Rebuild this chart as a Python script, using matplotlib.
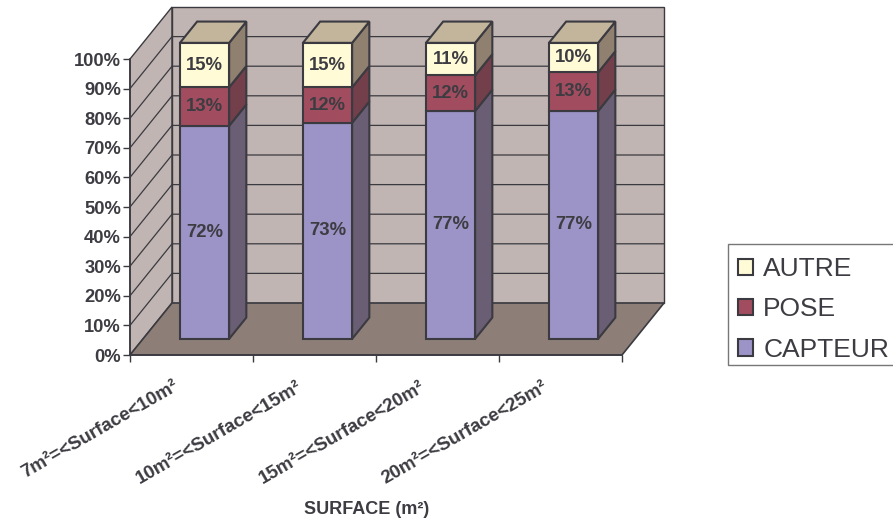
import matplotlib
matplotlib.use('Agg')
import matplotlib.pyplot as plt
from matplotlib.patches import Patch, Rectangle

plt.rcParams['font.family'] = ['Liberation Sans', 'DejaVu Sans']

categories = ['7m²=<Surface<10m²', '10m²=<Surface<15m²', '15m²=<Surface<20m²', '20m²=<Surface<25m²']
capteur = [72, 73, 77, 77]
pose = [13, 12, 12, 13]
autre = [15, 15, 11, 10]
series_names = ['CAPTEUR', 'POSE', 'AUTRE']
y_ticks = list(range(0, 101, 10))

TXT = '#3c3c42'
EDGE = '#3a3a40'
WALL = '#c0b5b2'
FLOOR = '#8d7e78'
TOP = '#c3b59b'
FRONT = ['#9c93c6', '#a24d5f', '#fffbd6']
SIDE = ['#6a5e74', '#733f4b', '#8f8070']

W, H = 893, 520
fig = plt.figure(figsize=(W / 100, H / 100), dpi=100)
# front plane of the fake 3d box, in pixels
ax = fig.add_axes([130 / W, 1 - 355 / H, 492 / W, 296 / H])
ax.set_xlim(0, 4)
ax.set_ylim(0, 100)

# depth of the box in data units
DX = 42 / 123
DY = 52 / 2.96


def poly(xs, ys, color, z, lw=1.0, ec=EDGE):
    ax.fill(xs, ys, facecolor=color, edgecolor=ec, linewidth=lw, zorder=z, clip_on=False)


# walls and floor
poly([0, DX, DX, 0], [0, DY, 100 + DY, 100], WALL, 1)
poly([DX, 4 + DX, 4 + DX, DX], [DY, DY, 100 + DY, 100 + DY], WALL, 1)
poly([0, 4, 4 + DX, DX], [0, 0, DY, DY], FLOOR, 2, lw=1.2)

for t in y_ticks[1:-1]:
    ax.plot([0, DX, 4 + DX], [t, t + DY, t + DY], color=EDGE, lw=0.9, zorder=2, clip_on=False)

# bars: stand 0.31 of the way back, 0.41 deep
start = 0.31
depth = 0.41
bar_w = 0.4
for i in range(len(categories)):
    x0 = i + 0.5 + start * DX
    y0 = start * DY
    x1 = x0 - bar_w / 2
    x2 = x0 + bar_w / 2
    ddx = depth * DX
    ddy = depth * DY
    bottom = 0
    for j, vals in enumerate([capteur, pose, autre]):
        v = vals[i]
        ax.bar(x0, v, bar_w, bottom=bottom + y0, color=FRONT[j], edgecolor=EDGE, linewidth=1.5, zorder=5, clip_on=False)
        poly([x2, x2 + ddx, x2 + ddx, x2],
             [bottom + y0, bottom + y0 + ddy, bottom + v + y0 + ddy, bottom + v + y0],
             SIDE[j], 4, lw=1.5)
        ax.text(x0, bottom + y0 + v / 2, '%d%%' % v, ha='center', va='center', fontsize=13.3,
                fontweight='bold', color=TXT, zorder=6)
        bottom += v
    poly([x1, x2, x2 + ddx, x1 + ddx], [bottom + y0, bottom + y0, bottom + y0 + ddy, bottom + y0 + ddy], TOP, 4, lw=1.5)

for s in ['top', 'right']:
    ax.spines[s].set_visible(False)
for s in ['left', 'bottom']:
    ax.spines[s].set_color(EDGE)
    ax.spines[s].set_linewidth(1.2)
    ax.spines[s].set_zorder(3)
ax.patch.set_visible(False)

ax.set_yticks(y_ticks)
ax.set_yticklabels(['%d%%' % t for t in y_ticks], fontsize=13.2, fontweight='bold', color=TXT)
ax.set_xticks(range(5))
ax.set_xticklabels([])
ax.tick_params(axis='both', length=5, width=1.0, color=EDGE, pad=1.5)

for i, c in enumerate(categories):
    ax.annotate(c, xy=(i + 0.5, 0), xytext=(-18, -23), textcoords='offset pixels', rotation=30,
                rotation_mode='anchor', ha='right', va='top', fontsize=13.5, fontweight='bold',
                color=TXT, annotation_clip=False)

fig.text(366.5 / W, 1 - 509.5 / H, 'SURFACE (m²)', ha='center', va='center', fontsize=13,
         fontweight='bold', color=TXT)

# legend box drawn apart so the rows can sit where they do in the original
fig.add_artist(Rectangle((728 / W, 1 - 365 / H), 175 / W, 121 / H, transform=fig.transFigure,
                         facecolor='white', edgecolor='#777777', linewidth=1.0))
handles = [Patch(facecolor=FRONT[j], edgecolor=EDGE, linewidth=1.5, label=series_names[j]) for j in [2, 1, 0]]
leg = fig.legend(handles=handles, loc='upper left', bbox_to_anchor=(728 / W, 1 - 247 / H), borderaxespad=0,
                 fontsize=19, frameon=False, handlelength=0.58, handleheight=0.58, handletextpad=0.38,
                 labelspacing=0.62, borderpad=0.38, labelcolor=TXT)

fig.savefig('out.png', dpi=100)
